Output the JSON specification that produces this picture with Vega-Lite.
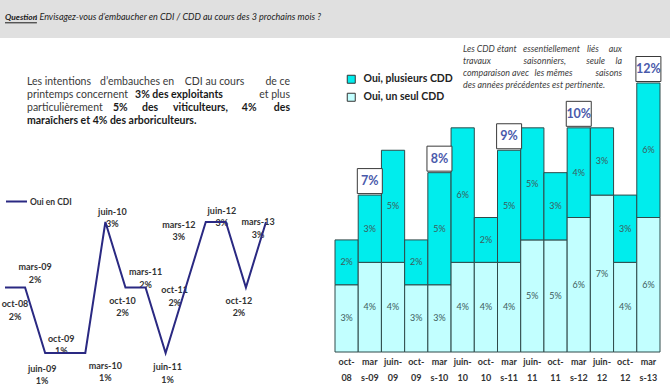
{
  "$schema": "https://vega.github.io/schema/vega-lite/v6.json",
  "width": 670,
  "height": 388,
  "padding": 0,
  "autosize": {"type": "none"},
  "background": "#ffffff",
  "config": {"view": {"stroke": null}, "font": "Lato", "text": {"font": "Lato"}},
  "datasets": {
    "cdd": [
      {"period": "oct-08", "type": "Oui, un seul CDD", "v": 0.03}, {"period": "oct-08", "type": "Oui, plusieurs CDD", "v": 0.02},
      {"period": "mars-09", "type": "Oui, un seul CDD", "v": 0.04}, {"period": "mars-09", "type": "Oui, plusieurs CDD", "v": 0.03},
      {"period": "juin-09", "type": "Oui, un seul CDD", "v": 0.04}, {"period": "juin-09", "type": "Oui, plusieurs CDD", "v": 0.05},
      {"period": "oct-09", "type": "Oui, un seul CDD", "v": 0.03}, {"period": "oct-09", "type": "Oui, plusieurs CDD", "v": 0.02},
      {"period": "mars-10", "type": "Oui, un seul CDD", "v": 0.03}, {"period": "mars-10", "type": "Oui, plusieurs CDD", "v": 0.05},
      {"period": "juin-10", "type": "Oui, un seul CDD", "v": 0.04}, {"period": "juin-10", "type": "Oui, plusieurs CDD", "v": 0.06},
      {"period": "oct-10", "type": "Oui, un seul CDD", "v": 0.04}, {"period": "oct-10", "type": "Oui, plusieurs CDD", "v": 0.02},
      {"period": "mars-11", "type": "Oui, un seul CDD", "v": 0.04}, {"period": "mars-11", "type": "Oui, plusieurs CDD", "v": 0.05},
      {"period": "juin-11", "type": "Oui, un seul CDD", "v": 0.05}, {"period": "juin-11", "type": "Oui, plusieurs CDD", "v": 0.05},
      {"period": "oct-11", "type": "Oui, un seul CDD", "v": 0.05}, {"period": "oct-11", "type": "Oui, plusieurs CDD", "v": 0.03},
      {"period": "mars-12", "type": "Oui, un seul CDD", "v": 0.06}, {"period": "mars-12", "type": "Oui, plusieurs CDD", "v": 0.04},
      {"period": "juin-12", "type": "Oui, un seul CDD", "v": 0.07}, {"period": "juin-12", "type": "Oui, plusieurs CDD", "v": 0.03},
      {"period": "oct-12", "type": "Oui, un seul CDD", "v": 0.04}, {"period": "oct-12", "type": "Oui, plusieurs CDD", "v": 0.03},
      {"period": "mars-13", "type": "Oui, un seul CDD", "v": 0.06}, {"period": "mars-13", "type": "Oui, plusieurs CDD", "v": 0.06}
    ],
    "cdi": [
      {"period": "oct-08", "cdi": 0.02}, {"period": "mars-09", "cdi": 0.02}, {"period": "juin-09", "cdi": 0.01},
      {"period": "oct-09", "cdi": 0.01}, {"period": "mars-10", "cdi": 0.01}, {"period": "juin-10", "cdi": 0.03},
      {"period": "oct-10", "cdi": 0.02}, {"period": "mars-11", "cdi": 0.02}, {"period": "juin-11", "cdi": 0.01},
      {"period": "oct-11", "cdi": 0.02}, {"period": "mars-12", "cdi": 0.03}, {"period": "juin-12", "cdi": 0.03},
      {"period": "oct-12", "cdi": 0.02}, {"period": "mars-13", "cdi": 0.03}
    ],
    "tot": [
      {"period": "mars-09", "total": 0.07}, {"period": "mars-10", "total": 0.08}, {"period": "mars-11", "total": 0.09},
      {"period": "mars-12", "total": 0.10}, {"period": "mars-13", "total": 0.12}
    ]
  },
  "layer": [
    {
      "data": {"values": [{}]},
      "mark": {"type": "rect", "color": "#e0e0e0"},
      "encoding": {
        "y": {"datum": 0, "type": "quantitative", "scale": {"domain": [0, 1], "range": [0, 38]}, "axis": null},
        "y2": {"datum": 1}
      }
    },
    {
      "data": {"values": [{}]},
      "layer": [
        {
          "mark": {"type": "text", "text": "Question", "align": "left", "baseline": "middle", "fontSize": 8.4, "fontStyle": "italic", "fontWeight": "bold", "color": "#1a1a1a"},
          "encoding": {
            "x": {"datum": 0, "type": "quantitative", "scale": {"domain": [0, 1], "range": [5, 321]}, "axis": null},
            "y": {"datum": 0.45, "type": "quantitative", "scale": {"domain": [0, 1], "range": [0, 38]}, "axis": null}
          }
        },
        {
          "mark": {"type": "text", "text": ": Envisagez-vous d’embaucher en CDI / CDD au cours des 3 prochains mois ?", "align": "right", "baseline": "middle", "fontSize": 9.05, "fontStyle": "italic", "color": "#222222"},
          "encoding": {"x": {"datum": 1, "type": "quantitative"}, "y": {"datum": 0.45, "type": "quantitative"}}
        },
        {
          "mark": {"type": "rule", "color": "#1a1a1a", "strokeWidth": 1},
          "encoding": {"x": {"datum": 0, "type": "quantitative"}, "x2": {"datum": 0.101}, "y": {"datum": 0.6, "type": "quantitative"}}
        }
      ]
    },
    {
      "data": {"values": [{}]},
      "layer": [
        {
          "mark": {"type": "text", "text": "Les intentions", "align": "left", "baseline": "middle", "fontSize": 10.5, "color": "#3a3a3a"},
          "encoding": {
            "x": {"datum": 0, "type": "quantitative", "scale": {"domain": [0, 1], "range": [27, 290]}, "axis": null},
            "y": {"datum": 0, "type": "quantitative", "scale": {"domain": [0, 3], "range": [82, 121]}, "axis": null}
          }
        },
        {"mark": {"type": "text", "text": "d’embauches en", "align": "left", "baseline": "middle", "fontSize": 10.5, "color": "#3a3a3a"},
         "encoding": {"x": {"datum": 0.278, "type": "quantitative"}, "y": {"datum": 0, "type": "quantitative"}}},
        {"mark": {"type": "text", "text": "CDI au cours", "align": "left", "baseline": "middle", "fontSize": 10.5, "color": "#3a3a3a"},
         "encoding": {"x": {"datum": 0.6, "type": "quantitative"}, "y": {"datum": 0, "type": "quantitative"}}},
        {"mark": {"type": "text", "text": "de ce", "align": "right", "baseline": "middle", "fontSize": 10.5, "color": "#3a3a3a"},
         "encoding": {"x": {"datum": 1, "type": "quantitative"}, "y": {"datum": 0, "type": "quantitative"}}},
        {"mark": {"type": "text", "text": "printemps concernent", "align": "left", "baseline": "middle", "fontSize": 10.5, "color": "#3a3a3a"},
         "encoding": {"x": {"datum": 0, "type": "quantitative"}, "y": {"datum": 1, "type": "quantitative"}}},
        {"mark": {"type": "text", "text": "3% des exploitants", "align": "left", "baseline": "middle", "fontSize": 10.5, "fontWeight": "bold", "color": "#1a1a1a"},
         "encoding": {"x": {"datum": 0.411, "type": "quantitative"}, "y": {"datum": 1, "type": "quantitative"}}},
        {"mark": {"type": "text", "text": "et plus", "align": "right", "baseline": "middle", "fontSize": 10.5, "color": "#3a3a3a"},
         "encoding": {"x": {"datum": 1, "type": "quantitative"}, "y": {"datum": 1, "type": "quantitative"}}},
        {"mark": {"type": "text", "text": "particulièrement", "align": "left", "baseline": "middle", "fontSize": 10.5, "color": "#3a3a3a"},
         "encoding": {"x": {"datum": 0, "type": "quantitative"}, "y": {"datum": 2, "type": "quantitative"}}},
        {"mark": {"type": "text", "text": "5%", "align": "left", "baseline": "middle", "fontSize": 10.5, "fontWeight": "bold", "color": "#1a1a1a"},
         "encoding": {"x": {"datum": 0.327, "type": "quantitative"}, "y": {"datum": 2, "type": "quantitative"}}},
        {"mark": {"type": "text", "text": "des", "align": "left", "baseline": "middle", "fontSize": 10.5, "fontWeight": "bold", "color": "#1a1a1a"},
         "encoding": {"x": {"datum": 0.437, "type": "quantitative"}, "y": {"datum": 2, "type": "quantitative"}}},
        {"mark": {"type": "text", "text": "viticulteurs,", "align": "left", "baseline": "middle", "fontSize": 10.5, "fontWeight": "bold", "color": "#1a1a1a"},
         "encoding": {"x": {"datum": 0.555, "type": "quantitative"}, "y": {"datum": 2, "type": "quantitative"}}},
        {"mark": {"type": "text", "text": "4%", "align": "left", "baseline": "middle", "fontSize": 10.5, "fontWeight": "bold", "color": "#1a1a1a"},
         "encoding": {"x": {"datum": 0.817, "type": "quantitative"}, "y": {"datum": 2, "type": "quantitative"}}},
        {"mark": {"type": "text", "text": "des", "align": "right", "baseline": "middle", "fontSize": 10.5, "fontWeight": "bold", "color": "#1a1a1a"},
         "encoding": {"x": {"datum": 1, "type": "quantitative"}, "y": {"datum": 2, "type": "quantitative"}}},
        {"mark": {"type": "text", "text": "maraîchers et 4% des arboriculteurs.", "align": "left", "baseline": "middle", "fontSize": 10.5, "fontWeight": "bold", "color": "#1a1a1a"},
         "encoding": {"x": {"datum": 0, "type": "quantitative"}, "y": {"datum": 3, "type": "quantitative"}}}
      ]
    },
    {
      "data": {"values": [{}]},
      "layer": [
        {
          "mark": {"type": "text", "text": "Les CDD étant", "align": "left", "baseline": "middle", "fontSize": 8.9, "fontStyle": "italic", "color": "#404040"},
          "encoding": {
            "x": {"datum": 0, "type": "quantitative", "scale": {"domain": [0, 1], "range": [463, 622]}, "axis": null},
            "y": {"datum": 0, "type": "quantitative", "scale": {"domain": [0, 3], "range": [49, 85]}, "axis": null}
          }
        },
        {"mark": {"type": "text", "text": "essentiellement", "align": "left", "baseline": "middle", "fontSize": 8.9, "fontStyle": "italic", "color": "#404040"},
         "encoding": {"x": {"datum": 0.377, "type": "quantitative"}, "y": {"datum": 0, "type": "quantitative"}}},
        {"mark": {"type": "text", "text": "liés", "align": "left", "baseline": "middle", "fontSize": 8.9, "fontStyle": "italic", "color": "#404040"},
         "encoding": {"x": {"datum": 0.78, "type": "quantitative"}, "y": {"datum": 0, "type": "quantitative"}}},
        {"mark": {"type": "text", "text": "aux", "align": "right", "baseline": "middle", "fontSize": 8.9, "fontStyle": "italic", "color": "#404040"},
         "encoding": {"x": {"datum": 1, "type": "quantitative"}, "y": {"datum": 0, "type": "quantitative"}}},
        {"mark": {"type": "text", "text": "travaux", "align": "left", "baseline": "middle", "fontSize": 8.9, "fontStyle": "italic", "color": "#404040"},
         "encoding": {"x": {"datum": 0, "type": "quantitative"}, "y": {"datum": 1, "type": "quantitative"}}},
        {"mark": {"type": "text", "text": "saisonniers,", "align": "left", "baseline": "middle", "fontSize": 8.9, "fontStyle": "italic", "color": "#404040"},
         "encoding": {"x": {"datum": 0.38, "type": "quantitative"}, "y": {"datum": 1, "type": "quantitative"}}},
        {"mark": {"type": "text", "text": "seule", "align": "left", "baseline": "middle", "fontSize": 8.9, "fontStyle": "italic", "color": "#404040"},
         "encoding": {"x": {"datum": 0.775, "type": "quantitative"}, "y": {"datum": 1, "type": "quantitative"}}},
        {"mark": {"type": "text", "text": "la", "align": "right", "baseline": "middle", "fontSize": 8.9, "fontStyle": "italic", "color": "#404040"},
         "encoding": {"x": {"datum": 1, "type": "quantitative"}, "y": {"datum": 1, "type": "quantitative"}}},
        {"mark": {"type": "text", "text": "comparaison avec", "align": "left", "baseline": "middle", "fontSize": 8.9, "fontStyle": "italic", "color": "#404040"},
         "encoding": {"x": {"datum": 0, "type": "quantitative"}, "y": {"datum": 2, "type": "quantitative"}}},
        {"mark": {"type": "text", "text": "les mêmes", "align": "left", "baseline": "middle", "fontSize": 8.9, "fontStyle": "italic", "color": "#404040"},
         "encoding": {"x": {"datum": 0.45, "type": "quantitative"}, "y": {"datum": 2, "type": "quantitative"}}},
        {"mark": {"type": "text", "text": "saisons", "align": "right", "baseline": "middle", "fontSize": 8.9, "fontStyle": "italic", "color": "#404040"},
         "encoding": {"x": {"datum": 1, "type": "quantitative"}, "y": {"datum": 2, "type": "quantitative"}}},
        {"mark": {"type": "text", "text": "des années précédentes est pertinente.", "align": "left", "baseline": "middle", "fontSize": 8.9, "fontStyle": "italic", "color": "#404040"},
         "encoding": {"x": {"datum": 0, "type": "quantitative"}, "y": {"datum": 3, "type": "quantitative"}}}
      ]
    },
    {
      "data": {"name": "cdi"},
      "encoding": {
        "x": {"field": "period", "type": "ordinal", "sort": ["oct-08", "mars-09", "juin-09", "oct-09", "mars-10", "juin-10", "oct-10", "mars-11", "juin-11", "oct-11", "mars-12", "juin-12", "oct-12", "mars-13"],
              "scale": {"type": "point", "domain": ["oct-08", "mars-09", "juin-09", "oct-09", "mars-10", "juin-10", "oct-10", "mars-11", "juin-11", "oct-11", "mars-12", "juin-12", "oct-12", "mars-13"], "range": [5, 266], "padding": 0}, "axis": null},
        "y": {"field": "cdi", "type": "quantitative", "scale": {"domain": [0.01, 0.03], "range": [353, 222], "nice": false, "zero": false}, "axis": null}
      },
      "layer": [
        {
          "mark": {
            "type": "text",
            "text": {"expr": "[datum.period, format(datum.cdi, '.0%')]"},
            "dx": {"expr": "[10,10,-3,-4,20,7,-3,0,2,-11,-27,-4,-7,-8][indexof(['oct-08','mars-09','juin-09','oct-09','mars-10','juin-10','oct-10','mars-11','juin-11','oct-11','mars-12','juin-12','oct-12','mars-13'], datum.period)]"},
            "dy": {"expr": "[16.5,-20.5,15.5,-14.5,12.5,-10.5,13,-15.5,14,2.5,2.5,-11.5,13,0][indexof(['oct-08','mars-09','juin-09','oct-09','mars-10','juin-10','oct-10','mars-11','juin-11','oct-11','mars-12','juin-12','oct-12','mars-13'], datum.period)]"},
            "fontSize": 9, "fontWeight": "bold", "lineHeight": 12.5, "baseline": "middle", "align": "center", "color": "#333333"
          }
        },
        {
          "mark": {"type": "line", "strokeWidth": 2},
          "encoding": {
            "color": {"datum": "Oui en CDI", "type": "nominal", "scale": {"range": ["#2a2982"]},
                      "legend": {"orient": "none", "legendX": 5, "legendY": 190, "title": null, "symbolType": "stroke", "symbolSize": 441, "symbolStrokeWidth": 2, "labelFontSize": 8.5, "labelFontWeight": "bold", "labelColor": "#333333", "labelOffset": 2, "padding": 0}}
          }
        }
      ]
    },
    {
      "layer": [
        {
          "data": {"name": "cdd"},
          "transform": [
            {"stack": "v", "groupby": ["period"], "sort": [{"field": "type", "order": "descending"}], "as": ["y0", "y1"]},
            {"calculate": "(datum.y0 + datum.y1) / 2", "as": "ymid"}
          ],
          "encoding": {
            "x": {"field": "period", "type": "ordinal", "sort": ["oct-08", "mars-09", "juin-09", "oct-09", "mars-10", "juin-10", "oct-10", "mars-11", "juin-11", "oct-11", "mars-12", "juin-12", "oct-12", "mars-13"],
                  "scale": {"type": "band", "domain": ["oct-08", "mars-09", "juin-09", "oct-09", "mars-10", "juin-10", "oct-10", "mars-11", "juin-11", "oct-11", "mars-12", "juin-12", "oct-12", "mars-13"], "range": [335, 660], "paddingInner": 0, "paddingOuter": 0},
                  "axis": {"orient": "bottom", "offset": -36, "domain": false, "ticks": false, "grid": false, "title": null, "labelAngle": 0, "labelFont": "Lato", "labelFontSize": 9, "labelFontWeight": "bold", "labelColor": "#333333", "labelPadding": 5, "labelBaseline": "top", "labelLineHeight": 16,
                           "labelExpr": "indexof(datum.label, 'mars') == 0 ? ['mar', slice(datum.label, 3)] : [slice(datum.label, 0, indexof(datum.label, '-') + 1), slice(datum.label, indexof(datum.label, '-') + 1)]"}}
          },
          "layer": [
            {
              "mark": {"type": "bar", "stroke": "#2f4a4a", "strokeWidth": 1},
              "encoding": {
                "y": {"field": "y1", "type": "quantitative", "scale": {"domain": [0, 0.12], "range": [352, 83], "nice": false}, "axis": null},
                "y2": {"field": "y0"},
                "color": {"field": "type", "type": "nominal", "scale": {"domain": ["Oui, plusieurs CDD", "Oui, un seul CDD"], "range": ["#00eded", "#c2ffff"]},
                          "legend": {"orient": "none", "legendX": 346, "legendY": 74, "title": null, "symbolType": "square", "symbolSize": 64, "symbolStrokeColor": "#333333", "symbolStrokeWidth": 1, "symbolOpacity": 1, "labelFont": "Lato", "labelFontSize": 10.5, "labelFontWeight": "bold", "labelColor": "#222222", "labelOffset": 7, "rowPadding": 5, "padding": 0}}
              }
            },
            {
              "mark": {"type": "text", "fontSize": 9, "color": "#3d5c5c", "baseline": "middle"},
              "encoding": {
                "y": {"field": "ymid", "type": "quantitative"},
                "text": {"field": "v", "type": "quantitative", "format": ".0%"}
              }
            }
          ]
        },
        {
          "data": {"name": "tot"},
          "mark": {"type": "square", "size": 625, "fill": "#ffffff", "fillOpacity": 1, "stroke": "#3a3a3a", "strokeWidth": 1, "yOffset": -14},
          "encoding": {
            "x": {"field": "period", "type": "ordinal"},
            "y": {"field": "total", "type": "quantitative"}
          }
        },
        {
          "data": {"name": "tot"},
          "mark": {"type": "text", "fontSize": 12.5, "fontWeight": "bold", "color": "#4a5aab", "baseline": "middle", "dy": -14},
          "encoding": {
            "x": {"field": "period", "type": "ordinal"},
            "y": {"field": "total", "type": "quantitative"},
            "text": {"field": "total", "type": "quantitative", "format": ".0%"}
          }
        }
      ]
    }
  ],
  "resolve": {
    "scale": {"x": "independent", "y": "independent", "color": "independent"},
    "axis": {"x": "independent", "y": "independent"},
    "legend": {"color": "independent"}
  }
}
